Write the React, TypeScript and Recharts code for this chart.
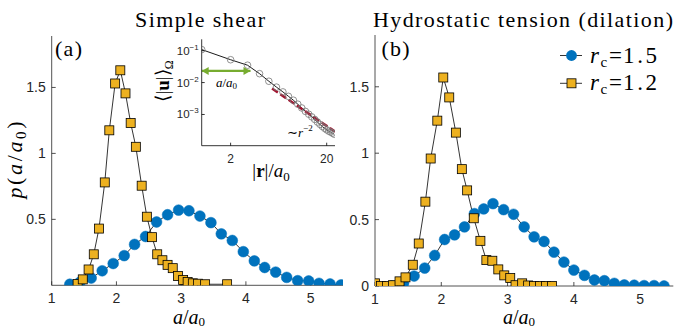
import React from "react";
import { LineChart, Line, XAxis, YAxis, Legend } from "recharts";

const BLUE = "#0072BD";
const YELLOW = "#EDB120";
const RED = "#A2142F";
const GREEN = "#77AC30";
const AX = "#262626";
const SANS = "'Liberation Sans', Arial, sans-serif";
const SERIF = "'Liberation Serif', 'Times New Roman', serif";

// (a) simple shear
const shearX15 = [1.28, 1.44, 1.61, 1.78, 1.95, 2.12, 2.28, 2.45, 2.62, 2.79, 2.96, 3.12, 3.29, 3.46, 3.62, 3.79, 3.96, 4.13, 4.29, 4.46, 4.63, 4.8, 4.97, 5.13, 5.3, 5.47];
const shearY15 = [0.008, 0.025, 0.055, 0.11, 0.165, 0.225, 0.31, 0.37, 0.48, 0.535, 0.57, 0.565, 0.525, 0.475, 0.39, 0.34, 0.255, 0.185, 0.135, 0.1, 0.06, 0.035, 0.033, 0.015, 0.01, 0.003];
const shearX12 = [1.4, 1.48, 1.57, 1.65, 1.73, 1.82, 1.89, 1.98, 2.06, 2.14, 2.22, 2.3, 2.39, 2.47, 2.55, 2.63, 2.71, 2.79, 2.87, 2.95, 3.03, 3.1, 3.18, 3.26, 3.37, 3.71];
const shearY12 = [0.01, 0.045, 0.12, 0.235, 0.43, 0.78, 1.175, 1.53, 1.63, 1.455, 1.23, 1.05, 0.755, 0.52, 0.365, 0.235, 0.19, 0.155, 0.13, 0.07, 0.04, 0.025, 0.015, 0.012, 0.008, 0.008];

// (b) hydrostatic tension
const dilX15 = [1.25, 1.43, 1.59, 1.75, 1.9, 2.05, 2.2, 2.35, 2.5, 2.64, 2.78, 2.94, 3.09, 3.25, 3.4, 3.55, 3.7, 3.85, 4.0, 4.16, 4.31, 4.46, 4.61, 4.76, 4.91, 5.06, 5.21, 5.36];
const dilY15 = [0.0, 0.02, 0.075, 0.135, 0.23, 0.35, 0.385, 0.445, 0.545, 0.58, 0.62, 0.575, 0.54, 0.445, 0.37, 0.335, 0.255, 0.18, 0.12, 0.08, 0.045, 0.04, 0.02, 0.008, 0.006, 0.003, 0.003, 0.0];
const dilX12 = [1.0, 1.09, 1.18, 1.27, 1.37, 1.46, 1.57, 1.66, 1.76, 1.84, 1.94, 2.03, 2.12, 2.22, 2.31, 2.39, 2.49, 2.59, 2.68, 2.77, 2.86, 2.95, 3.04, 3.12, 3.22, 3.31, 3.4, 3.49, 3.58, 3.67];
const dilY12 = [0.02, 0.0, 0.0, 0.006, 0.035, 0.065, 0.16, 0.32, 0.635, 0.96, 1.245, 1.57, 1.42, 1.155, 0.88, 0.72, 0.51, 0.34, 0.195, 0.19, 0.125, 0.08, 0.06, 0.006, 0.02, 0.004, 0.0, 0.0, 0.0, 0.0];

// inset: <|u|> vs |r|/a0
const insetR = [1, 2, 3, 4, 5, 6, 7, 8, 9, 10, 11, 12, 13, 14, 15, 16, 17, 18, 19, 20, 21, 22, 23, 24];
const insetU = [0.108, 0.052, 0.035, 0.019, 0.011, 0.0072, 0.0051, 0.0037, 0.0028, 0.0021, 0.0016, 0.00125, 0.00102, 0.00084, 0.0007, 0.00058, 0.00049, 0.00042, 0.00037, 0.00033, 0.0003, 0.00028, 0.00026, 0.00024];
const slopeR = [5.4, 24.4];
const slopeU = [0.0065, 0.00029];
const arrowR = [1, 3.22];
const arrowU = [0.0232, 0.0232];

const xTicks = [1, 2, 3, 4, 5];
const yTicksA = [0.5, 1, 1.5];
const yTicksB = [0, 0.5, 1, 1.5];
const insetXTicks = [2, 20];
const insetYTicks = [0.001, 0.01, 0.1];
const insetYMinor = [0.0002, 0.0003, 0.0004, 0.0005, 0.0006, 0.0007, 0.0008, 0.0009, 0.001, 0.002, 0.003, 0.004, 0.005, 0.006, 0.007, 0.008, 0.009, 0.01, 0.02, 0.03, 0.04, 0.05, 0.06, 0.07, 0.08, 0.09, 0.1, 0.2];
const legendValues = ["1.5", "1.2"];

const zip = (xs: number[], ys: number[]) => xs.map((x, i) => ({ x, y: ys[i] }));

const circleDot = (p: any) => (
  <circle key={p.index} cx={p.cx} cy={p.cy} r={5.4} fill={BLUE} stroke={BLUE} strokeWidth={0.5} />
);
const squareDot = (p: any) => (
  <rect key={p.index} x={p.cx - 4.5} y={p.cy - 4.5} width={9} height={9} fill={YELLOW} stroke="#000" strokeWidth={0.8} />
);
const openDot = (p: any) => (
  <circle key={p.index} cx={p.cx} cy={p.cy} r={3.3} fill="none" stroke="#777" strokeWidth={0.8} />
);
const arrowHead = (p: any) => {
  const d = p.index === 0 ? -1 : 1;
  return (
    <path key={p.index} d={`M${p.cx},${p.cy} L${p.cx - d * 7},${p.cy - 4} L${p.cx - d * 7},${p.cy + 4} Z`} fill={GREEN} />
  );
};

const PowTick = (props: any) => {
  const { x, y, payload } = props;
  const e = Math.round(Math.log10(payload.value));
  return (
    <text x={x} y={y + 4} textAnchor="end" fontSize={11.5} fill={AX} fontFamily={SANS}>
      <tspan>10</tspan>
      <tspan dy={-5} fontSize={8}>{"\u2212" + Math.abs(e)}</tspan>
    </text>
  );
};

const renderLegend = () => (
  <svg width={120} height={60}>
    {legendValues.map((v, i) => {
      const cy = 15.5 + i * 27.8;
      return (
        <g key={v}>
          <line x1={5} x2={27} y1={cy} y2={cy} stroke="#000" strokeWidth={0.8} />
          {i === 0 ? (
            <circle cx={16.5} cy={cy} r={5.4} fill={BLUE} />
          ) : (
            <rect x={12} y={cy - 4.5} width={9} height={9} fill={YELLOW} stroke="#000" strokeWidth={0.8} />
          )}
          <text y={cy + 7} fontFamily={SERIF} fontSize={23} fill="#000">
            <tspan x={35} fontStyle="italic">r</tspan>
            <tspan x={45.5} dy={4} fontSize={15}>c</tspan>
            <tspan x={54} dy={-4}>=</tspan>
            <tspan x={68} textLength={34}>{v}</tspan>
          </text>
        </g>
      );
    })}
  </svg>
);

type PanelProps = {
  left: number;
  width: number;
  plotLeft: number;
  plotRight: number;
  plotTop: number;
  plotBottom: number;
  blue: { x: number; y: number }[];
  yellow: { x: number; y: number }[];
  yTicks: number[];
  xTickMargin: number;
  withLegend?: boolean;
};

function Panel(p: PanelProps) {
  const height = 329;
  const tickStyle = { fontSize: 14, fill: AX, fontFamily: SANS };
  return (
    <div style={{ position: "absolute", left: p.left, top: 0 }}>
      <LineChart
        width={p.width}
        height={height}
        margin={{ top: p.plotTop, right: p.width - (p.plotRight - p.left), bottom: 0, left: 0 }}
      >
        <XAxis xAxisId="b" type="number" dataKey="x" domain={[1, 5.5]} ticks={xTicks} interval={0}
          allowDataOverflow height={height - p.plotBottom} tickSize={-4} tickMargin={p.xTickMargin}
          stroke={AX} strokeWidth={0.8} tick={tickStyle} />
        <XAxis xAxisId="t" orientation="top" type="number" dataKey="x" domain={[1, 5.5]} ticks={xTicks}
          interval={0} allowDataOverflow height={0} tickSize={-4} tick={false} stroke={AX} strokeWidth={0.8} />
        <YAxis yAxisId="l" type="number" domain={[0, 1.89]} ticks={p.yTicks} interval={0} allowDataOverflow
          width={p.plotLeft - p.left} tickSize={-4} tickMargin={10} stroke={AX} strokeWidth={0.8} tick={tickStyle} />
        <YAxis yAxisId="r" orientation="right" type="number" domain={[0, 1.89]} ticks={p.yTicks} interval={0}
          allowDataOverflow width={0} tickSize={-4} tick={false} stroke={AX} strokeWidth={0.8} />
        <Line xAxisId="b" yAxisId="l" data={p.blue} dataKey="y" stroke="#000" strokeWidth={0.8}
          dot={circleDot} activeDot={false} isAnimationActive={false} legendType="none" />
        <Line xAxisId="b" yAxisId="l" data={p.yellow} dataKey="y" stroke="#000" strokeWidth={0.8}
          dot={squareDot} activeDot={false} isAnimationActive={false} legendType="none" />
        <Line xAxisId="t" yAxisId="r" data={p.blue} dataKey="y" stroke="none" dot={false}
          activeDot={false} isAnimationActive={false} legendType="none" />
        {p.withLegend && (
          <Legend layout="horizontal" verticalAlign="middle" align="center" content={renderLegend}
            wrapperStyle={{ position: "absolute", left: 555 - p.left, top: 40, width: 120, height: 60 }} />
        )}
      </LineChart>
    </div>
  );
}

function Inset() {
  const data = insetR.map((r, i) => ({ r, u: insetU[i] }));
  const slope = slopeR.map((r, i) => ({ r, u: slopeU[i] }));
  const arrow = arrowR.map((r, i) => ({ r, u: arrowU[i] }));
  return (
    <div style={{ position: "absolute", left: 150, top: 0 }}>
      <LineChart width={200} height={200} margin={{ top: 39.3, right: 15, bottom: 0, left: 0 }}>
        <XAxis xAxisId="b" type="number" scale="log" dataKey="r" domain={[1, 24.4]} ticks={insetXTicks}
          interval={0} allowDataOverflow height={54.3} tickSize={-3} tickMargin={12} stroke="#000"
          strokeWidth={0.8} tick={{ fontSize: 12, fill: AX, fontFamily: SANS }} />
        <XAxis xAxisId="t" orientation="top" type="number" scale="log" dataKey="r" domain={[1, 24.4]}
          ticks={insetXTicks} interval={0} allowDataOverflow height={0} tickSize={-3} tick={false}
          stroke="#000" strokeWidth={0.8} />
        <YAxis yAxisId="l" type="number" scale="log" domain={[1.05e-4, 0.227]} ticks={insetYTicks}
          interval={0} allowDataOverflow width={51.7} tickSize={-3} tickMargin={6} stroke="#000"
          strokeWidth={0.8} tick={<PowTick />} />
        <YAxis yAxisId="r" orientation="right" type="number" scale="log" domain={[1.05e-4, 0.227]}
          ticks={insetYMinor} interval={0} allowDataOverflow width={0} tickSize={-2} tick={false}
          stroke="#000" strokeWidth={0.8} />
        <Line xAxisId="b" yAxisId="l" data={data} dataKey="u" stroke="#000" strokeWidth={0.9}
          dot={openDot} activeDot={false} isAnimationActive={false} />
        <Line xAxisId="b" yAxisId="l" data={slope} dataKey="u" stroke={RED} strokeWidth={2.5}
          strokeDasharray="7 3" dot={false} activeDot={false} isAnimationActive={false} />
        <Line xAxisId="b" yAxisId="l" data={arrow} dataKey="u" stroke={GREEN} strokeWidth={2.2}
          dot={arrowHead} activeDot={false} isAnimationActive={false} />
        <Line xAxisId="t" yAxisId="r" data={data} dataKey="u" stroke="none" dot={false}
          activeDot={false} isAnimationActive={false} />
      </LineChart>
    </div>
  );
}

function Labels() {
  return (
    <svg width={691} height={329} style={{ position: "absolute", left: 0, top: 0, pointerEvents: "none" }}>
      <g fontFamily={SERIF} fill="#000">
        <text x={200} y={27} fontSize={22} textAnchor="middle" textLength={130}>Simple shear</text>
        <text x={523} y={27} fontSize={22} textAnchor="middle" textLength={300}>Hydrostatic tension (dilation)</text>
        <text x={55} y={56} fontSize={22} textLength={27}>(a)</text>
        <text x={381.5} y={56} fontSize={22} textLength={28}>(b)</text>
        {[189, 519].map((cx) => (
          <text key={cx} x={cx} y={324} fontSize={20} textAnchor="middle">
            <tspan fontStyle="italic">a</tspan>/<tspan fontStyle="italic">a</tspan>
            <tspan fontSize={13} dy={1.5}>0</tspan>
          </text>
        ))}
        <text transform="translate(22,160) rotate(-90)" fontSize={22} textAnchor="middle" textLength={77}>
          <tspan fontStyle="italic">p</tspan>(<tspan fontStyle="italic">a</tspan>/<tspan fontStyle="italic">a</tspan>
          <tspan fontSize={15} dy={4}>0</tspan>
          <tspan dy={-4}>)</tspan>
        </text>
        <text transform="translate(168.5,81) rotate(-90)" fontSize={19} textAnchor="middle">
          {"\u27E8|"}<tspan fontWeight="bold">u</tspan>{"|\u27E9"}
          <tspan fontSize={12} dy={4}>{"\u03A9"}</tspan>
        </text>
        <text x={271} y={177} fontSize={19} textAnchor="middle">
          |<tspan fontWeight="bold">r</tspan>|/<tspan fontStyle="italic">a</tspan>
          <tspan fontSize={13} dy={4}>0</tspan>
        </text>
        <text x={226.5} y={87} fontSize={13} textAnchor="middle">
          <tspan fontStyle="italic">a</tspan>/<tspan fontStyle="italic">a</tspan>
          <tspan fontSize={9} dy={2}>0</tspan>
        </text>
        <text x={287} y={137} fontSize={13}>
          {"\u223C"}<tspan fontStyle="italic">r</tspan>
          <tspan fontSize={9} dy={-6}>{"\u22122"}</tspan>
        </text>
      </g>
    </svg>
  );
}

export default function App() {
  return (
    <div style={{ position: "absolute", left: 0, top: 0, width: 691, height: 329, background: "#fff" }}>
      <Panel left={0} width={345} plotLeft={51.7} plotRight={343} plotTop={36} plotBottom={285.3}
        blue={zip(shearX15, shearY15)} yellow={zip(shearX12, shearY12)} yTicks={yTicksA} xTickMargin={12} />
      <Panel left={345} width={346} plotLeft={375} plotRight={673.3} plotTop={35} plotBottom={286}
        blue={zip(dilX15, dilY15)} yellow={zip(dilX12, dilY12)} yTicks={yTicksB} xTickMargin={12.5} withLegend />
      <Inset />
      <Labels />
    </div>
  );
}
